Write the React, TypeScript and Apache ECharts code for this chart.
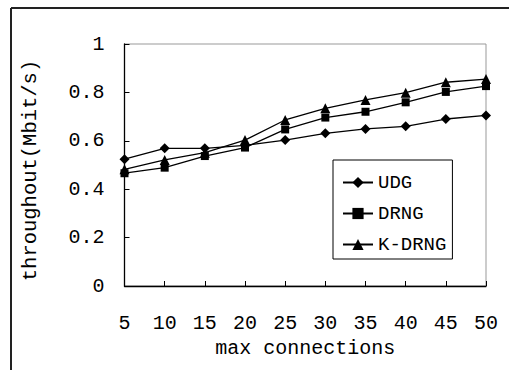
import React, { useEffect, useRef } from "react";
import * as echarts from "echarts";

const categories = ["5", "10", "15", "20", "25", "30", "35", "40", "45", "50"];
const udg = [0.524, 0.569, 0.569, 0.581, 0.603, 0.631, 0.649, 0.66, 0.69, 0.705];
const drng = [0.466, 0.489, 0.537, 0.572, 0.647, 0.696, 0.72, 0.759, 0.802, 0.826];
const kdrng = [0.482, 0.521, 0.551, 0.603, 0.686, 0.734, 0.769, 0.799, 0.842, 0.855];
const seriesNames = ["UDG", "DRNG", "K-DRNG"];
const yTickLabels = ["0", "0.2", "0.4", "0.6", "0.8", "1"];

const FONT = "Liberation Mono";

export default function App() {
  const ref = useRef<HTMLDivElement>(null);
  useEffect(() => {
    if (!ref.current) return;
    const chart = echarts.init(ref.current, null, { renderer: "svg" });
    const mkSeries = (name: string, data: number[], symbol: string, size: number) => ({
      name,
      type: "line",
      data,
      symbol,
      symbolSize: size,
      showSymbol: true,
      lineStyle: { color: "#000", width: 1.3 },
      itemStyle: { color: "#000" },
    });
    chart.setOption({
      animation: false,
      backgroundColor: "#fff",
      grid: {
        left: 124.5,
        right: 23,
        top: 44,
        bottom: 84,
        show: true,
        borderColor: "#999",
        borderWidth: 1,
      },
      legend: {
        orient: "vertical",
        left: 333,
        top: 160,
        padding: [13, 6, 5, 9],
        itemGap: 12,
        itemWidth: 30,
        itemHeight: 14,
        borderColor: "#000",
        borderWidth: 1,
        backgroundColor: "#fff",
        data: seriesNames,
        textStyle: { fontFamily: FONT, fontSize: 19, lineHeight: 19, color: "#000" },
      },
      xAxis: {
        type: "category",
        data: categories,
        boundaryGap: false,
        name: "max connections",
        nameLocation: "middle",
        nameGap: 52,
        nameTextStyle: { fontFamily: FONT, fontSize: 20, color: "#000" },
        axisLine: { lineStyle: { color: "#000", width: 1.3 } },
        axisTick: { inside: true, length: 5, lineStyle: { color: "#000" } },
        axisLabel: { fontFamily: FONT, fontSize: 20, color: "#000", margin: 27 },
        splitLine: { show: false },
      },
      yAxis: {
        type: "value",
        min: 0,
        max: 1,
        interval: 0.2,
        name: "throughout(Mbit/s)",
        nameLocation: "middle",
        nameGap: 84,
        nameTextStyle: { fontFamily: FONT, fontSize: 20.5, color: "#000", padding: [0, 11, 0, 0] },
        axisLine: { show: true, lineStyle: { color: "#000", width: 1.3 } },
        axisTick: { show: true, inside: true, length: 5, lineStyle: { color: "#000" } },
        axisLabel: {
          fontFamily: FONT,
          fontSize: 20,
          color: "#000",
          margin: 20,
          formatter: (v: number) => yTickLabels[Math.round(v / 0.2)],
        },
        splitLine: { show: false },
      },
      graphic: [
        { type: "line", shape: { x1: 11, y1: 8, x2: 509, y2: 8 }, style: { stroke: "#222", lineWidth: 2 } },
        { type: "line", shape: { x1: 11, y1: 8, x2: 11, y2: 370 }, style: { stroke: "#222", lineWidth: 2 } },
      ],
      series: [
        mkSeries(seriesNames[0], udg, "diamond", 10),
        mkSeries(seriesNames[1], drng, "rect", 8),
        mkSeries(seriesNames[2], kdrng, "triangle", 10),
      ],
    });
    return () => chart.dispose();
  }, []);
  return (
    <div
      ref={ref}
      style={{ position: "fixed", left: 0, top: 0, width: 509, height: 370 }}
    />
  );
}
